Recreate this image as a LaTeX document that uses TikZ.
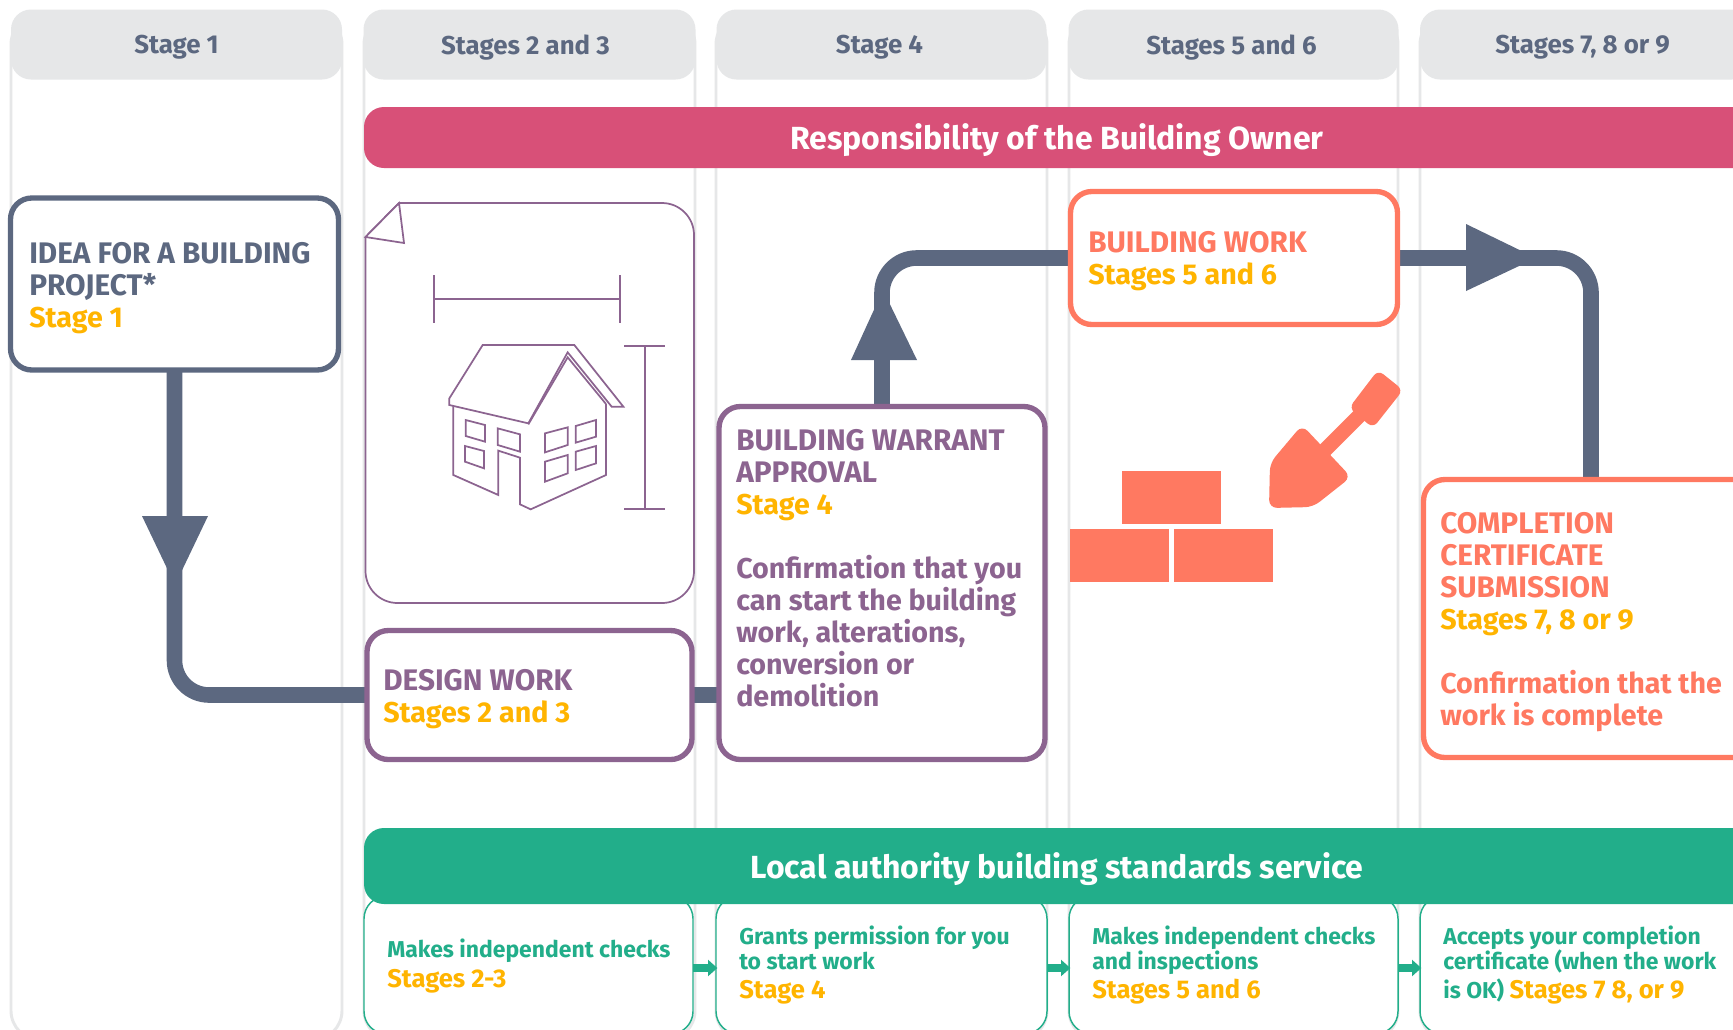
\documentclass[tikz,border=0pt]{standalone}
\usepackage{fontspec}
\setmainfont{Fira Sans}
\usetikzlibrary{arrows.meta,backgrounds}
\pgfdeclarelayer{base}
\pgfsetlayers{base,background,main}
\definecolor{navy}{HTML}{5C6880}
\definecolor{plum}{HTML}{8C6490}
\definecolor{coral}{HTML}{FF7961}
\definecolor{gold}{HTML}{FFB400}
\definecolor{rose}{HTML}{D85078}
\definecolor{teal}{HTML}{22AE8A}
\definecolor{pale}{HTML}{E6E7E8}
\newcommand{\mainfs}{\fontsize{22.3}{24}\selectfont\bfseries}
\newcommand{\smallfs}{\fontsize{17.2}{19}\selectfont\bfseries}
\newcommand{\lcase}[1]{{\fontsize{21.5}{24}\selectfont #1}}
\newcommand{\yel}[1]{{\fontsize{21.5}{24}\selectfont\textcolor{gold}{#1}}}
\newcommand{\yelb}[1]{{\fontsize{19.2}{19}\selectfont\textcolor{gold}{#1}}}
\tikzset{
  x=0.75pt,y=-0.75pt,
  boxsize/.style 2 args={minimum width=#1*0.75pt,minimum height=#2*0.75pt,inner sep=0pt,outer sep=0pt},
  colbox/.style={draw=pale,line width=2.2pt,rounded corners=22pt},
  header/.style={fill=pale,rounded corners=15pt,text=navy,font=\fontsize{19.4}{22}\selectfont\bfseries,text depth=-6pt},
  bar/.style={rounded corners=15pt,text=white},
  barlabel/.style={text=white,font=\fontsize{24}{28}\selectfont\bfseries,inner sep=0pt},
  stagebox/.style={line width=4pt,rounded corners=16pt,fill=white},
  boxtext/.style={anchor=west,align=left,inner sep=0pt,font=\mainfs},
  checkbox/.style={draw=teal,line width=1.1pt,rounded corners=17pt,fill=white},
  checktext/.style={anchor=west,align=left,inner sep=0pt,text=teal,font=\smallfs},
  flow/.style={draw=navy,line width=11.7pt,rounded corners=26pt},
  linkarrow/.style={draw=teal,line width=6pt,-{Triangle[length=7pt,width=12pt,fill=teal]},shorten >=-1pt},
  thinplum/.style={draw=plum,line width=1.3pt},
  houseline/.style={draw=plum,line width=1.3pt,line join=miter}
}
\begin{document}
\begin{tikzpicture}
\clip (0,0) rectangle (1733,1029);
% columns
\begin{pgfonlayer}{base}
\fill[white] (0,0) rectangle (1733,1029);
\node[colbox,boxsize={331}{1025}] (col1) at (176.5,527.5) {};
\node[colbox,boxsize={331}{1025}] (col2) at (529.5,527.5) {};
\node[colbox,boxsize={331}{1025}] (col3) at (881.5,527.5) {};
\node[colbox,boxsize={329}{1025}] (col4) at (1233.5,527.5) {};
\node[colbox,boxsize={332}{1025}] (col5) at (1586,527.5) {};
\end{pgfonlayer}
% headers
\node[header,boxsize={331}{70}] (h1) at (176.5,44.5) {Stage 1};
\node[header,boxsize={332}{70}] (h2) at (529.5,44.5) {\hspace*{-6pt}Stages 2 and 3};
\node[header,boxsize={330}{70}] (h3) at (881.5,44.5) {\hspace*{-3pt}Stage 4};
\node[header,boxsize={330}{70}] (h4) at (1233.5,44.5) {\hspace*{-3pt}Stages 5 and 6};
\node[header,boxsize={332}{70}] (h5) at (1586,44.5) {\hspace*{-5pt}Stages 7, 8 or 9};
% top bar
\node[fill=rose,bar,boxsize={1500}{61}] (ownerbar) at (1114,137.5) {};
\node[barlabel] (ownerlabel) at (1057,140) {Responsibility of the Building Owner};
% stage boxes
\node[stagebox,draw=navy,boxsize={328}{172}] (idea) at (174.5,284) {};
\node[stagebox,draw=plum,boxsize={325}{129}] (design) at (529.5,695) {};
\node[stagebox,draw=plum,boxsize={326}{353}] (warrant) at (882,583) {};
\node[stagebox,draw=coral,boxsize={327}{133}] (bw) at (1234,258) {};
\node[stagebox,draw=coral,boxsize={335}{278}] (cert) at (1591,618.5) {};
% stage box texts
\node[boxtext,text=navy] (ideatext) at (29,288) {IDEA FOR A BUILDING\\PROJECT*\\\yel{Stage 1}};
\node[boxtext,text=plum] (designtext) at (383,699) {DESIGN WORK\\\yel{Stages 2 and 3}};
\node[boxtext,text=plum] (warranttext) at (736,568) {BUILDING WARRANT\\APPROVAL\\\yel{Stage 4}\\[24pt]\lcase{Confirmation that you}\\\lcase{can start the building}\\\lcase{work, alterations,}\\\lcase{conversion or}\\\lcase{demolition}};
\node[boxtext,text=coral] (bwtext) at (1088,261) {BUILDING WORK\\\yel{Stages 5 and 6}};
\node[boxtext,text=coral] (certtext) at (1440,622) {COMPLETION\\CERTIFICATE\\SUBMISSION\\\yel{Stages 7, 8 or 9}\\[24pt]\lcase{Confirmation that the}\\\lcase{work is complete}};
% connectors, behind the boxes
\coordinate (certtop) at (1591,478);
\begin{pgfonlayer}{background}
\draw[flow] (idea.south) |- (design.west);
\draw[flow] (design.east) -- (design.east -| warrant.west);
\draw[flow] (warrant.north) |- (bw.west);
\draw[flow] (bw.east) -| (certtop);
\fill[navy] (142,516) -- (208,516) -- (175,585) -- cycle;
\fill[navy] (851,360) -- (917,360) -- (883,290) -- cycle;
\fill[navy] (1466,224) -- (1466,291) -- (1536,258) -- cycle;
\end{pgfonlayer}
% plan sheet
\draw[thinplum,fill=white] (399,203) [rounded corners=24pt] -- (694,203) -- (694,603) -- (365.5,603) [sharp corners] -- (365.5,237) -- cycle;
\draw[thinplum,fill=white,line join=miter] (399,203) -- (404,243) -- (365.5,237) -- cycle;
\draw[thinplum] (434,275) -- (434,323) (620,275) -- (620,323) (434,299) -- (620,299);
\draw[thinplum] (624,346) -- (665,346) (624,509) -- (665,509) (645,346) -- (645,509);
% house
\begin{scope}[shift={(420,320)},x=0.25pt,y=-0.25pt]
\draw[houseline] (88,235) -- (188,75) -- (463,75) -- (610,260) -- (575,260) -- (443,97) -- (325,310) -- (88,255) -- cycle;
\draw[houseline] (325,313) -- (443,112) -- (558,252);
\draw[houseline] (100,258) -- (100,465) -- (235,525) -- (235,392) -- (300,413) -- (300,553) -- (332,568) -- (558,465) -- (558,252);
\draw[houseline] (137,300) -- (195,315) -- (195,365) -- (137,348) -- cycle;
\draw[houseline] (135,378) -- (192,393) -- (192,445) -- (135,425) -- cycle;
\draw[houseline] (233,325) -- (300,343) -- (300,395) -- (233,375) -- cycle;
\draw[houseline] (375,340) -- (443,322) -- (443,375) -- (375,397) -- cycle;
\draw[houseline] (467,318) -- (528,300) -- (528,350) -- (467,368) -- cycle;
\draw[houseline] (375,425) -- (443,405) -- (443,460) -- (375,485) -- cycle;
\draw[houseline] (467,395) -- (528,378) -- (528,430) -- (467,450) -- cycle;
\end{scope}
% bricks and trowel
\fill[coral] (1122,471) rectangle (1221,524);
\fill[coral] (1070,529) rectangle (1169,582);
\fill[coral] (1174,529) rectangle (1273,582);
\draw[coral,line width=11pt] (1360,415) -- (1322,453);
\fill[coral,rounded corners=5pt] (1378,370) -- (1403,390) -- (1373,428) -- (1349,408) -- cycle;
\fill[coral,rounded corners=6pt] (1302,425) -- (1351,477) -- (1313,507) -- (1269,508) -- (1270,463) -- cycle;
% check boxes
\node[checkbox,boxsize={329}{138}] (c2) at (528.5,965) {};
\node[checkbox,boxsize={331}{138}] (c3) at (881.5,965) {};
\node[checkbox,boxsize={329}{138}] (c4) at (1233.5,965) {};
\node[checkbox,boxsize={332}{138}] (c5) at (1586,965) {};
\draw[linkarrow] ([yshift=-2.25pt]c2.east) -- ([yshift=-2.25pt]c3.west);
\draw[linkarrow] ([yshift=-2.25pt]c3.east) -- ([yshift=-2.25pt]c4.west);
\draw[linkarrow] ([yshift=-2.25pt]c4.east) -- ([yshift=-2.25pt]c5.west);
\node[checktext] (c2text) at (387,966) {Makes independent checks\\[3pt]\yelb{Stages 2-3}};
\node[checktext] (c3text) at (739,965) {Grants permission for you\\to start work\\[3pt]\yelb{Stage 4}};
\node[checktext] (c4text) at (1092,965) {Makes independent checks\\and inspections\\[3pt]\yelb{Stages 5 and 6}};
\node[checktext] (c5text) at (1443,965) {Accepts your completion\\certificate (when the work\\[3pt]is OK) \yelb{Stages 7 8, or 9}};
% bottom bar
\node[fill=teal,bar,boxsize={1500}{76}] (ladbar) at (1114,866) {};
\node[barlabel] (ladlabel) at (1057,869) {Local authority building standards service};
\end{tikzpicture}
\end{document}
